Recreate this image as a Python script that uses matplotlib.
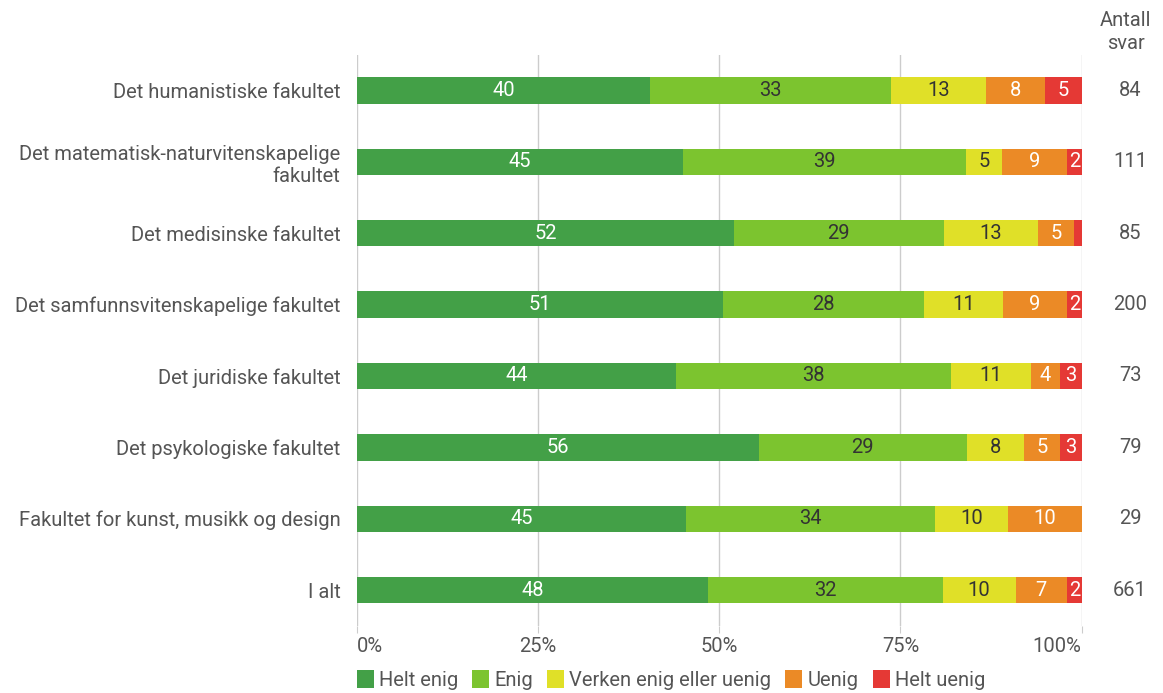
import matplotlib.pyplot as plt
import numpy as np

plt.rcParams['font.family'] = ['Roboto', 'DejaVu Sans']

faculties = ["Det humanistiske fakultet",
             "Det matematisk-naturvitenskapelige\nfakultet",
             "Det medisinske fakultet",
             "Det samfunnsvitenskapelige fakultet",
             "Det juridiske fakultet",
             "Det psykologiske fakultet",
             "Fakultet for kunst, musikk og design",
             "I alt"]
categories = ["Helt enig", "Enig", "Verken enig eller uenig", "Uenig", "Helt uenig"]
helt_enig = [40, 45, 52, 51, 44, 56, 45, 48]
enig = [33, 39, 29, 28, 38, 29, 34, 32]
verken = [13, 5, 13, 11, 11, 8, 10, 10]
uenig = [8, 9, 5, 9, 4, 5, 10, 7]
helt_uenig = [5, 2, 1, 2, 3, 3, 0, 2]
antall = [84, 111, 85, 200, 73, 79, 29, 661]

colors = ["#43a047", "#7cc42f", "#e0e028", "#eb8a26", "#e53935"]
label_colors = ["white", "#333333", "#333333", "white", "white"]
text_gray = "#555555"
fs = 14.5

series = np.array([helt_enig, enig, verken, uenig, helt_uenig], dtype=float)
shares = series / series.sum(axis=0) * 100

fig = plt.figure(figsize=(11.63, 6.93), dpi=100)
ax = fig.add_axes([0.307, 0.097, 0.623, 0.824])

y = np.arange(len(faculties))
left = np.zeros(len(faculties))
for k in range(len(categories)):
    ax.barh(y, shares[k], left=left, height=0.37, color=colors[k],
            label=categories[k], zorder=3)
    for i in range(len(faculties)):
        if series[k, i] >= 2:
            ax.text(left[i] + shares[k, i] / 2, y[i], "%d" % series[k, i],
                    ha="center", va="center", color=label_colors[k],
                    fontsize=fs, zorder=4)
    left += shares[k]

for i in range(len(faculties)):
    ax.text(106.7, y[i], str(antall[i]), ha="center", va="center",
            color=text_gray, fontsize=fs)
fig.text(0.968, 0.970, "Antall", ha="center", va="center", color=text_gray, fontsize=fs)
fig.text(0.968, 0.937, "svar", ha="center", va="center", color=text_gray, fontsize=fs)

ax.set_xlim(0, 100)
ax.set_ylim(len(faculties) - 0.5, -0.5)
ax.set_yticks(y)
ax.set_yticklabels(faculties, fontsize=fs, color=text_gray)
ax.set_xticks([0, 25, 50, 75, 100])
ax.set_xticklabels(["0%", "25%", "50%", "75%", "100%"], fontsize=fs, color=text_gray)
xlabels = ax.get_xticklabels()
xlabels[0].set_horizontalalignment("left")
xlabels[-1].set_horizontalalignment("right")
ax.tick_params(axis="y", length=0, pad=12)
ax.tick_params(axis="x", length=5, color="#cccccc", pad=3)
ax.grid(axis="x", color="#cccccc", linewidth=1, zorder=0)
for s in ax.spines.values():
    s.set_visible(False)

fig.legend(loc="lower left", bbox_to_anchor=(0.291, -0.022), ncol=5, frameon=False,
           fontsize=fs, handlelength=0.85, handleheight=1.0, handletextpad=0.25,
           columnspacing=0.7, labelcolor=text_gray)

fig.savefig("out.png", dpi=100)
